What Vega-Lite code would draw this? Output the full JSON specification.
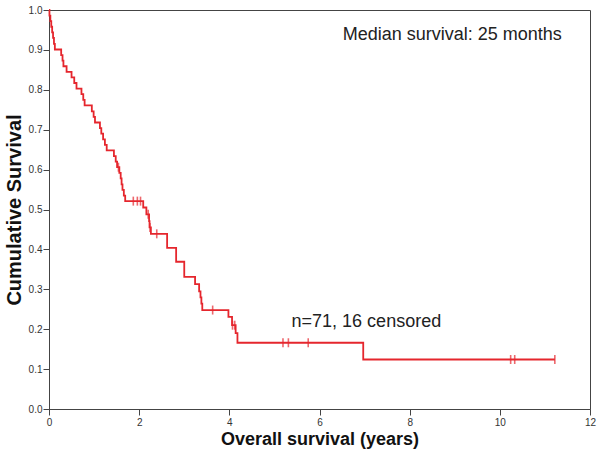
{
  "$schema": "https://vega.github.io/schema/vega-lite/v6.json",
  "width": 541,
  "height": 399,
  "autosize": {"type": "none"},
  "padding": {"left": 49, "top": 10, "right": 11, "bottom": 53},
  "background": "white",
  "config": {
    "font": "Liberation Sans",
    "view": {"stroke": "#444", "strokeWidth": 1},
    "axis": {
      "grid": false,
      "domainColor": "#444",
      "tickColor": "#444",
      "tickSize": 6,
      "labelFont": "Liberation Sans",
      "labelFontSize": 10,
      "labelColor": "#333",
      "labelOverlap": false,
      "labelFlush": false,
      "titleFont": "Liberation Sans",
      "titleFontWeight": "bold",
      "titleColor": "#111"
    }
  },
  "datasets": {
    "curve": [
      {"t": 0, "s": 1.0},
      {"t": 0.01, "s": 0.986},
      {"t": 0.03, "s": 0.972},
      {"t": 0.05, "s": 0.958},
      {"t": 0.07, "s": 0.944},
      {"t": 0.09, "s": 0.930},
      {"t": 0.11, "s": 0.915},
      {"t": 0.13, "s": 0.901},
      {"t": 0.27, "s": 0.887},
      {"t": 0.30, "s": 0.873},
      {"t": 0.32, "s": 0.859},
      {"t": 0.39, "s": 0.845},
      {"t": 0.50, "s": 0.831},
      {"t": 0.56, "s": 0.817},
      {"t": 0.61, "s": 0.803},
      {"t": 0.72, "s": 0.789},
      {"t": 0.76, "s": 0.775},
      {"t": 0.79, "s": 0.761},
      {"t": 0.95, "s": 0.746},
      {"t": 0.99, "s": 0.732},
      {"t": 1.02, "s": 0.718},
      {"t": 1.13, "s": 0.704},
      {"t": 1.16, "s": 0.690},
      {"t": 1.20, "s": 0.676},
      {"t": 1.24, "s": 0.662},
      {"t": 1.28, "s": 0.648},
      {"t": 1.44, "s": 0.634},
      {"t": 1.48, "s": 0.620},
      {"t": 1.51, "s": 0.606},
      {"t": 1.56, "s": 0.592},
      {"t": 1.59, "s": 0.578},
      {"t": 1.61, "s": 0.563},
      {"t": 1.63, "s": 0.549},
      {"t": 1.66, "s": 0.535},
      {"t": 1.69, "s": 0.521},
      {"t": 2.09, "s": 0.505},
      {"t": 2.16, "s": 0.488},
      {"t": 2.22, "s": 0.471},
      {"t": 2.23, "s": 0.455},
      {"t": 2.26, "s": 0.439},
      {"t": 2.62, "s": 0.404},
      {"t": 2.82, "s": 0.369},
      {"t": 3.00, "s": 0.331},
      {"t": 3.24, "s": 0.313},
      {"t": 3.33, "s": 0.295},
      {"t": 3.36, "s": 0.280},
      {"t": 3.38, "s": 0.264},
      {"t": 3.40, "s": 0.248},
      {"t": 3.98, "s": 0.231},
      {"t": 4.06, "s": 0.210},
      {"t": 4.14, "s": 0.190},
      {"t": 4.18, "s": 0.166},
      {"t": 6.97, "s": 0.124},
      {"t": 11.22, "s": 0.124}
    ],
    "censor": [
      {"t": 1.54, "s": 0.606},
      {"t": 1.87, "s": 0.521},
      {"t": 1.96, "s": 0.521},
      {"t": 2.03, "s": 0.521},
      {"t": 2.20, "s": 0.488},
      {"t": 2.24, "s": 0.455},
      {"t": 2.39, "s": 0.439},
      {"t": 3.63, "s": 0.248},
      {"t": 4.07, "s": 0.210},
      {"t": 4.12, "s": 0.210},
      {"t": 5.19, "s": 0.166},
      {"t": 5.31, "s": 0.166},
      {"t": 5.75, "s": 0.166},
      {"t": 10.24, "s": 0.124},
      {"t": 10.33, "s": 0.124},
      {"t": 11.22, "s": 0.124}
    ],
    "notes": [
      {"t": 6.515, "s": 0.925, "label": "Median survival: 25 months"},
      {"t": 5.38, "s": 0.206, "label": "n=71, 16 censored"}
    ]
  },
  "encoding": {
    "x": {
      "field": "t", "type": "quantitative",
      "scale": {"domain": [0, 12], "nice": false},
      "axis": {"values": [0, 2, 4, 6, 8, 10, 12], "title": "Overall survival (years)", "titleFontSize": 18, "labelPadding": 2, "titlePadding": 3}
    },
    "y": {
      "field": "s", "type": "quantitative",
      "scale": {"domain": [0, 1], "nice": false},
      "axis": {"values": [0, 0.1, 0.2, 0.3, 0.4, 0.5, 0.6, 0.7, 0.8, 0.9, 1.0], "format": ".1f", "title": "Cumulative Survival", "titleFontSize": 20, "labelPadding": 1, "titlePadding": 4, "labelOverlap": false}
    }
  },
  "layer": [
    {
      "data": {"name": "curve"},
      "mark": {"type": "line", "interpolate": "step-after", "color": "#e5262d", "strokeWidth": 1.8}
    },
    {
      "data": {"name": "censor"},
      "mark": {"type": "tick", "orient": "vertical", "color": "#e5262d", "size": 9, "thickness": 1.6}
    },
    {
      "data": {"name": "notes"},
      "mark": {"type": "text", "align": "left", "baseline": "alphabetic", "fontSize": 18, "color": "#222", "font": "Liberation Sans"},
      "encoding": {
        "text": {"field": "label"}
      }
    }
  ]
}
